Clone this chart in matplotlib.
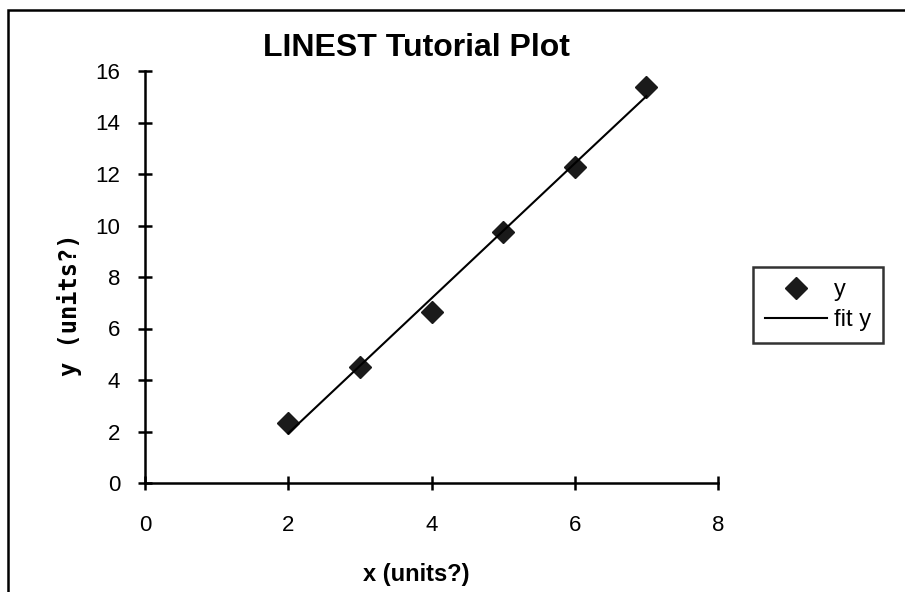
import matplotlib.pyplot as plt
from matplotlib.patches import Rectangle

# data
x = [2, 3, 4, 5, 6, 7]
y = [2.32, 4.49, 6.65, 9.76, 12.26, 15.37]
fit_y = [1.93, 4.55, 7.17, 9.79, 12.41, 15.02]
xticks = [0, 2, 4, 6, 8]
yticks = [0, 2, 4, 6, 8, 10, 12, 14, 16]

plt.rcParams['font.family'] = ['Liberation Sans', 'DejaVu Sans']

fig = plt.figure(figsize=(9.05, 5.92), dpi=100)
# outer chart frame (runs off the right and bottom edge)
fig.patches.append(Rectangle((8 / 905, -0.1), 1.0, 1 - 10 / 592 + 0.1,
                             transform=fig.transFigure, fill=False,
                             edgecolor='black', linewidth=1.8))

ax = fig.add_axes([145 / 905, 1 - 483 / 592, (718 - 145) / 905, (483 - 71) / 592])
ax.plot(x, y, linestyle='none', marker='D', markersize=11, color='#1a1a1a', label='y')
ax.plot(x, fit_y, color='black', linewidth=1.5, label='fit y')

ax.set_xlim(0, 8)
ax.set_ylim(0, 16)
ax.set_xticks(xticks)
ax.set_yticks(yticks)
ax.spines['top'].set_visible(False)
ax.spines['right'].set_visible(False)
ax.spines['left'].set_linewidth(1.8)
ax.spines['bottom'].set_linewidth(1.8)
ax.tick_params(direction='inout', length=10, width=1.8, labelsize=16)
ax.tick_params(axis='y', pad=13)
ax.tick_params(axis='x', pad=18)
ax.patch.set_alpha(0)

fig.text(416 / 905, 1 - 48 / 592, 'LINEST Tutorial Plot', fontsize=23,
         fontweight='bold', ha='center', va='center')
fig.text(416 / 905, 1 - 575 / 592, 'x (units?)', fontsize=17,
         fontweight='bold', ha='center', va='center')
fig.text(70 / 905, 1 - 305 / 592, 'y (units?)', fontsize=17, rotation=90,
         fontweight='bold', ha='center', va='center', family='DejaVu Sans Mono')

leg = fig.legend(loc='upper left', bbox_to_anchor=(753 / 905, 1 - 267 / 592),
                 fontsize=17, frameon=True, fancybox=False, handlelength=2.65,
                 borderpad=0.5, labelspacing=0.35, handletextpad=0.3,
                 borderaxespad=0)
leg.get_frame().set_edgecolor('black')
leg.get_frame().set_linewidth(1.8)

fig.savefig('out.png', dpi=100)
